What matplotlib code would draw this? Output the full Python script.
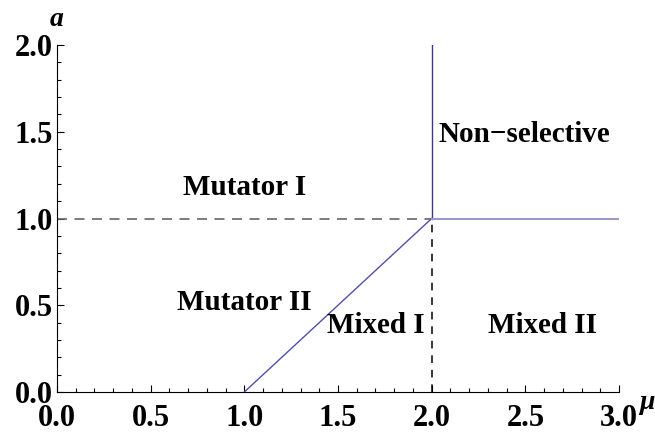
import matplotlib.pyplot as plt
import numpy as np
from matplotlib.ticker import MultipleLocator

# phase boundaries (mu, a)
diag_mu = [1.0, 2.0]
diag_a = [0.0, 1.0]
vert_mu = [2.0, 2.0]
vert_a = [1.0, 2.0]
flat_mu = [2.0, 3.0]
flat_a = [1.0, 1.0]
dash_h_mu = [0.0, 2.0]
dash_h_a = [1.0, 1.0]
dash_v_mu = [2.0, 2.0]
dash_v_a = [0.0, 1.0]

regions = ['Mutator I', 'Mutator II', 'Mixed I', 'Mixed II', 'Non\u2212selective']
region_mu = [1.0, 1.0, 1.70, 2.594, 2.497]
region_a = [1.135, 0.473, 0.34, 0.34, 1.441]

plt.rcParams['font.family'] = ['Liberation Serif', 'DejaVu Serif']
plt.rcParams['font.weight'] = 'bold'

fig = plt.figure(figsize=(6.55, 4.33), dpi=100)
ax = fig.add_axes([57 / 655, 41 / 433, 562 / 655, 347 / 433])

ax.plot(dash_h_mu, dash_h_a, color='#666666', linestyle=(0, (6, 4.5)), lw=1.2)
ax.plot(dash_v_mu, dash_v_a, color='black', linestyle=(0, (5, 4.5)), lw=1.1)
ax.plot(diag_mu, diag_a, color='#4f4fad', lw=1.0)
ax.plot(vert_mu, vert_a, color='#3a3a92', lw=1.0)
ax.plot(flat_mu, flat_a, color='#9a9acc', lw=1.5)

for name, x, y in zip(regions, region_mu, region_a):
    ax.text(x, y, name, ha='center', va='baseline', fontsize=21, fontweight='bold')

ax.set_xlim(0, 3.0)
ax.set_ylim(0, 2.0)
ax.xaxis.set_major_locator(MultipleLocator(0.5))
ax.xaxis.set_minor_locator(MultipleLocator(0.1))
ax.yaxis.set_major_locator(MultipleLocator(0.5))
ax.yaxis.set_minor_locator(MultipleLocator(0.1))
ax.xaxis.set_major_formatter(lambda v, p: f'{v:.1f}')
ax.yaxis.set_major_formatter(lambda v, p: f'{v:.1f}')
ax.tick_params(which='both', direction='in', width=0.8, labelsize=22, colors='black')
ax.tick_params(which='major', length=5)
ax.tick_params(which='minor', length=3)
ax.tick_params(axis='x', pad=9)
ax.tick_params(axis='y', pad=3)
for lab in ax.get_xticklabels() + ax.get_yticklabels():
    lab.set_fontweight('bold')
ax.spines['top'].set_visible(False)
ax.spines['right'].set_visible(False)

ax.text(0.0, 1.055, 'a', transform=ax.transAxes, fontsize=20, fontstyle='italic',
        fontweight='bold', ha='center', va='baseline')
ax.text(1.036, -0.05, '\u03bc', transform=ax.transAxes, fontsize=20, fontstyle='italic',
        fontweight='bold', ha='left', va='baseline')

fig.savefig('out.png', dpi=100)
